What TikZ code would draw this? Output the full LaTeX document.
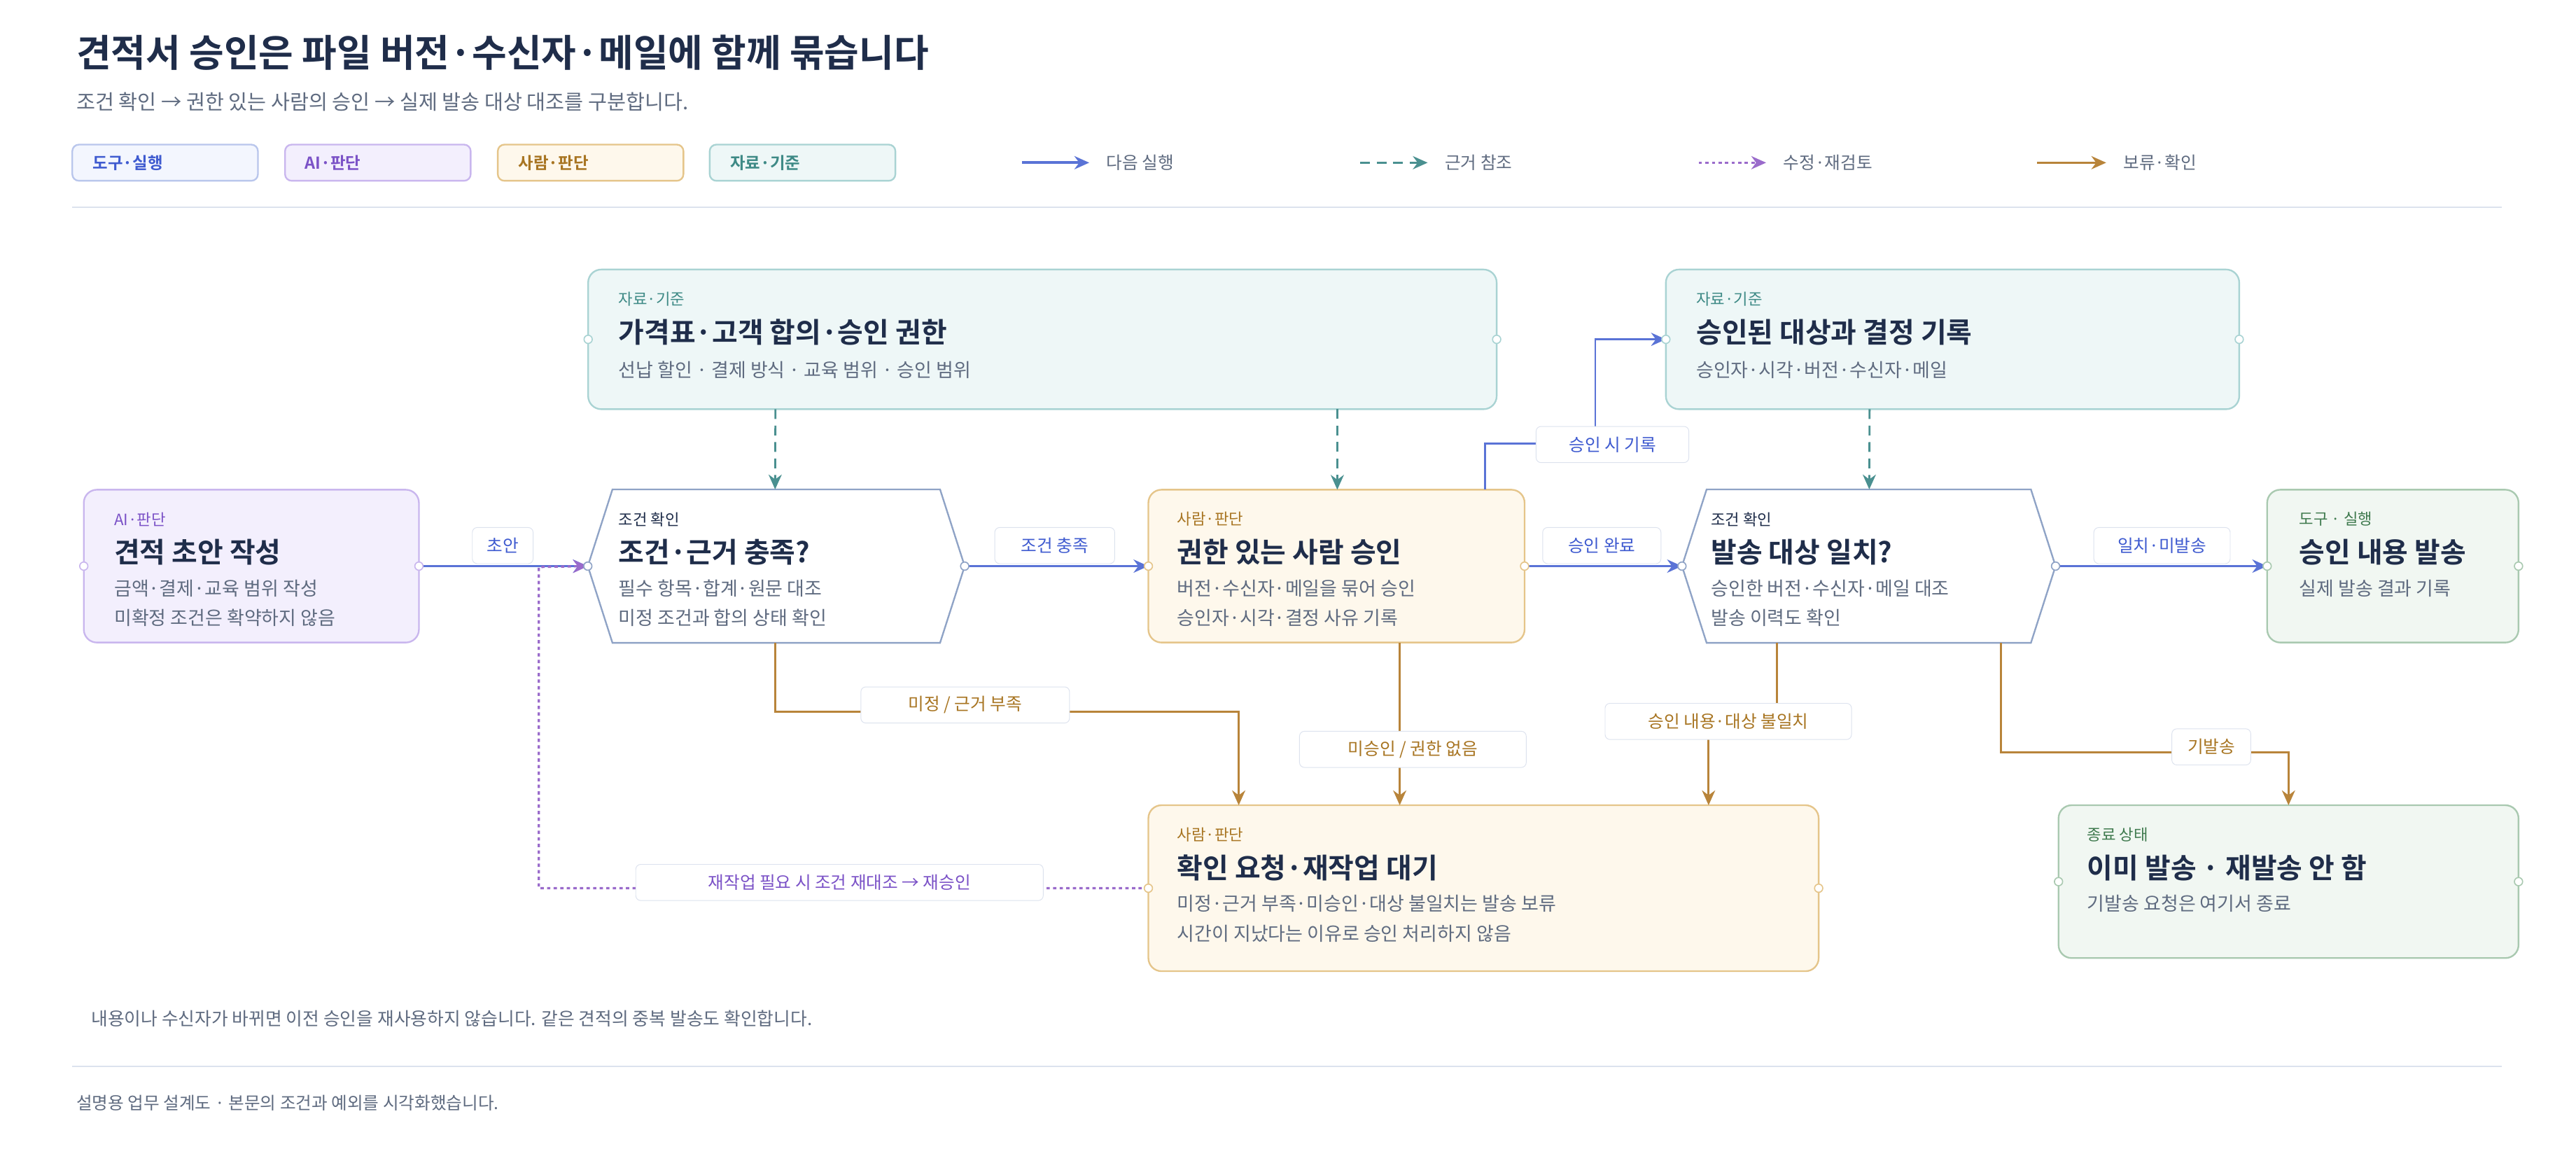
\documentclass[tikz,border=0pt]{standalone}
\usepackage{fontspec}
\setmainfont{Noto Sans CJK KR}[BoldFont={Noto Sans CJK KR Bold}]
\usetikzlibrary{arrows.meta,calc}
\definecolor{ink}{HTML}{1F2D4A}
\definecolor{gr}{HTML}{5F6B80}
\definecolor{eblue}{HTML}{5A73D6}
\definecolor{eteal}{HTML}{4A9090}
\definecolor{epurp}{HTML}{9A6BCB}
\definecolor{ebrown}{HTML}{B8843A}
\definecolor{tealF}{HTML}{EEF7F7}\definecolor{tealD}{HTML}{A9D3D3}\definecolor{tealT}{HTML}{3E8A86}
\definecolor{purF}{HTML}{F3EFFD}\definecolor{purD}{HTML}{C9B6EE}\definecolor{purT}{HTML}{7B52C7}
\definecolor{orF}{HTML}{FEF8EC}\definecolor{orD}{HTML}{E5C58A}\definecolor{orT}{HTML}{A87522}
\definecolor{grnF}{HTML}{F1F7F2}\definecolor{grnD}{HTML}{A9C9B0}\definecolor{grnT}{HTML}{3F7A4E}
\definecolor{bluF}{HTML}{F3F6FE}\definecolor{bluD}{HTML}{B9C6EC}\definecolor{bluT}{HTML}{3F5BD0}
\definecolor{hexD}{HTML}{8FA3C6}
\definecolor{lab}{HTML}{DCE2EE}
\tikzset{
 box/.style={rounded corners=8pt,line width=1pt,inner sep=0pt,outer sep=0pt},
 tk/.style={anchor=west,font=\fontsize{9.5}{11}\selectfont},
 ttl/.style={anchor=west,font=\bfseries\fontsize{17}{20}\selectfont,text=ink},
 ln/.style={anchor=west,font=\fontsize{11.5}{13}\selectfont,text=gr},
 elab/.style={fill=white,draw=lab,rounded corners=3pt,inner sep=0pt,minimum height=22pt,font=\fontsize{10.5}{12}\selectfont},
 port/.style={circle,draw=#1,fill=white,inner sep=0pt,minimum size=5pt,line width=0.7pt},
 aw/.style={-{Stealth[length=9pt,width=8pt]}},
 nxt/.style={aw,eblue,line width=1.6pt},
 ref/.style={aw,eteal,line width=1.2pt,dash pattern=on 6pt off 4pt},
 rev/.style={aw,epurp,line width=1.4pt,dash pattern=on 2pt off 2pt},
 hold/.style={aw,ebrown,line width=1.3pt},
 legb/.style={box,rounded corners=4pt,minimum width=113pt,minimum height=22pt},
}
\begin{document}
\begin{tikzpicture}[x=1pt,y=-1pt]
\useasboundingbox[fill=white] (0,0) rectangle (1568,699);
% header
\node[anchor=west,font=\bfseries\fontsize{23}{26}\selectfont,text=ink] (title) at (43,32) {견적서 승인은 파일 버전·수신자·메일에 함께 묶습니다};
\node[anchor=west,font=\fontsize{12.5}{14}\selectfont,text=gr] (sub) at (43,62) {조건 확인 → 권한 있는 사람의 승인 → 실제 발송 대상 대조를 구분합니다.};
% legend
\node[legb,fill=bluF,draw=bluD] (l1) at (100.5,99) {};
\node[tk,text=bluT,font=\bfseries\fontsize{10}{12}\selectfont] (l1t) at (53,99) {도구·실행};
\node[legb,fill=purF,draw=purD] (l2) at (230,99) {};
\node[tk,text=purT,font=\bfseries\fontsize{10}{12}\selectfont] (l2t) at (182,99) {AI·판단};
\node[legb,fill=orF,draw=orD] (l3) at (359.5,99) {};
\node[tk,text=orT,font=\bfseries\fontsize{10}{12}\selectfont] (l3t) at (312,99) {사람·판단};
\node[legb,fill=tealF,draw=tealD] (l4) at (488.5,99) {};
\node[tk,text=tealT,font=\bfseries\fontsize{10}{12}\selectfont] (l4t) at (441,99) {자료·기준};
\coordinate (a1) at (622,99);\coordinate (b1) at (663,99);
\draw[nxt] (a1) -- (b1);
\node[tk,text=gr,font=\fontsize{10.5}{12}\selectfont] (lt1) at (670,99) {다음 실행};
\coordinate (a2) at (828,99);\coordinate (b2) at (869,99);
\draw[ref] (a2) -- (b2);
\node[tk,text=gr,font=\fontsize{10.5}{12}\selectfont] (lt2) at (876,99) {근거 참조};
\coordinate (a3) at (1034,99);\coordinate (b3) at (1075,99);
\draw[rev] (a3) -- (b3);
\node[tk,text=gr,font=\fontsize{10.5}{12}\selectfont] (lt3) at (1082,99) {수정·재검토};
\coordinate (a4) at (1240,99);\coordinate (b4) at (1282,99);
\draw[hold] (a4) -- (b4);
\node[tk,text=gr,font=\fontsize{10.5}{12}\selectfont] (lt4) at (1289,99) {보류·확인};
\coordinate (s1a) at (44,126);\coordinate (s1b) at (1523,126);
\draw[lab,line width=1pt] (s1a) -- (s1b);
% cards
\node[box,fill=tealF,draw=tealD,minimum width=553pt,minimum height=85pt] (src1) at (634.5,206.5) {};
\node[tk,text=tealT] at (373,182) {자료·기준};
\node[ttl] at (373,202) {가격표·고객 합의·승인 권한};
\node[ln] at (373,225) {선납 할인 · 결제 방식 · 교육 범위 · 승인 범위};
\node[box,fill=tealF,draw=tealD,minimum width=349pt,minimum height=85pt] (src2) at (1188.5,206.5) {};
\node[tk,text=tealT] at (1029,182) {자료·기준};
\node[ttl] at (1029,202) {승인된 대상과 결정 기록};
\node[ln] at (1029,225) {승인자·시각·버전·수신자·메일};
\node[box,fill=purF,draw=purD,minimum width=204pt,minimum height=93pt] (ai) at (153,344.5) {};
\node[tk,text=purT] at (66,316) {AI·판단};
\node[ttl] at (66,336) {견적 초안 작성};
\node[ln] at (66,358) {금액·결제·교육 범위 작성};
\node[ln] at (66,376) {미확정 조건은 확약하지 않음};
% hex 1
\node[inner sep=0,minimum width=229pt,minimum height=93pt] (c1) at (472.5,344.5) {};
\draw[hexD,fill=white,line width=1pt] (c1.west) -- ($(c1.north west)+(15,0)$) -- ($(c1.north east)+(-15,0)$) -- (c1.east) -- ($(c1.south east)+(-15,0)$) -- ($(c1.south west)+(15,0)$) -- cycle;
\node[tk,text=ink] at (373,316) {조건 확인};
\node[ttl] at (373,336) {조건·근거 충족?};
\node[ln] at (373,358) {필수 항목·합계·원문 대조};
\node[ln] at (373,376) {미정 조건과 합의 상태 확인};
\node[box,fill=orF,draw=orD,minimum width=229pt,minimum height=93pt] (h1) at (813.5,344.5) {};
\node[tk,text=orT] at (713,316) {사람·판단};
\node[ttl] at (713,336) {권한 있는 사람 승인};
\node[ln] at (713,358) {버전·수신자·메일을 묶어 승인};
\node[ln] at (713,376) {승인자·시각·결정 사유 기록};
% hex 2
\node[inner sep=0,minimum width=227pt,minimum height=93pt] (c2) at (1137.5,344.5) {};
\draw[hexD,fill=white,line width=1pt] (c2.west) -- ($(c2.north west)+(15,0)$) -- ($(c2.north east)+(-15,0)$) -- (c2.east) -- ($(c2.south east)+(-15,0)$) -- ($(c2.south west)+(15,0)$) -- cycle;
\node[tk,text=ink] at (1038,316) {조건 확인};
\node[ttl] at (1038,336) {발송 대상 일치?};
\node[ln] at (1038,358) {승인한 버전·수신자·메일 대조};
\node[ln] at (1038,376) {발송 이력도 확인};
\node[box,fill=grnF,draw=grnD,minimum width=153pt,minimum height=93pt] (tool) at (1456.5,344.5) {};
\node[tk,text=grnT] at (1396,316) {도구 · 실행};
\node[ttl] at (1396,336) {승인 내용 발송};
\node[ln] at (1396,358) {실제 발송 결과 기록};
\node[box,fill=orF,draw=orD,minimum width=408pt,minimum height=101pt] (wait) at (903,540.5) {};
\node[tk,text=orT] at (713,508) {사람·판단};
\node[ttl] at (713,528) {확인 요청·재작업 대기};
\node[ln] at (713,550) {미정·근거 부족·미승인·대상 불일치는 발송 보류};
\node[ln] at (713,568) {시간이 지났다는 이유로 승인 처리하지 않음};
\node[box,fill=grnF,draw=grnD,minimum width=280pt,minimum height=93pt] (end) at (1393,536.5) {};
\node[tk,text=grnT] at (1267,508) {종료 상태};
\node[ttl] at (1267,528) {이미 발송 · 재발송 안 함};
\node[ln] at (1267,550) {기발송 요청은 여기서 종료};
% edges
\draw[ref] ($(src1.south west)+(114,0)$) -- ($(c1.north west)+(114,0)$);
\draw[ref] ($(src1.south west)+(456,0)$) -- ($(h1.north west)+(115,0)$);
\draw[ref] ($(src2.south west)+(124,0)$) -- ($(c2.north west)+(114,0)$);
\draw[nxt] (ai.east) -- (c1.west);
\node[elab,text=bluT,minimum width=37pt] (e1) at (306,332) {초안};
\draw[nxt] (c1.east) -- (h1.west);
\node[elab,text=bluT,minimum width=73pt] (e2) at (642,332) {조건 충족};
\draw[nxt] (h1.east) -- (c2.west);
\node[elab,text=bluT,minimum width=72pt] (e3) at (975,332) {승인 완료};
\draw[nxt] (c2.east) -- (tool.west);
\node[elab,text=bluT,minimum width=83pt] (e4) at (1316,332) {일치·미발송};
\draw[nxt,line width=1.2pt] ($(h1.north east)+(-24,0)$) |- (935,270) -- (971,270) |- (src2.west);
\node[elab,text=bluT,minimum width=93pt] (e5) at (981.5,270.5) {승인 시 기록};
% hold
\draw[hold] ($(c1.south west)+(114,0)$) |- (754,433) -- ($(wait.north west)+(55,0)$);
\node[elab,text=orT,minimum width=127pt] (e6) at (587.5,429) {미정 / 근거 부족};
\draw[hold] ($(h1.south west)+(153,0)$) -- ($(wait.north west)+(153,0)$);
\node[elab,text=orT,minimum width=138pt] (e7) at (860,456) {미승인 / 권한 없음};
\draw[hold] ($(c2.south west)+(58,0)$) |- (1040,439) -- ($(wait.north west)+(341,0)$);
\node[elab,text=orT,minimum width=150pt] (e8) at (1052,439) {승인 내용·대상 불일치};
\draw[hold] ($(c2.south west)+(194,0)$) |- (1393,458) -- (end.north);
\node[elab,text=orT,minimum width=48pt] (e9) at (1346,454.5) {기발송};
% revision
\draw[rev] (wait.west) -| (328,345) -- (c1.west);
\node[elab,text=purT,minimum width=248pt] (e10) at (511,537) {재작업 필요 시 조건 재대조 → 재승인};
% ports
\foreach \p/\c in {src1.west/tealD,src1.east/tealD,src2.west/tealD,src2.east/tealD,ai.west/purD,ai.east/purD,c1.west/hexD,c1.east/hexD,h1.west/orD,h1.east/orD,c2.west/hexD,c2.east/hexD,tool.west/grnD,tool.east/grnD,wait.west/orD,wait.east/orD,end.west/grnD,end.east/grnD}
  \node[port=\c] at (\p) {};
% footer
\node[anchor=west,font=\fontsize{11}{13}\selectfont,text=gr] (fn) at (52,620) {내용이나 수신자가 바뀌면 이전 승인을 재사용하지 않습니다. 같은 견적의 중복 발송도 확인합니다.};
\coordinate (s2a) at (44,649);\coordinate (s2b) at (1523,649);
\draw[lab,line width=1pt] (s2a) -- (s2b);
\node[anchor=west,font=\fontsize{10.5}{12}\selectfont,text=gr] (cap) at (43,671) {설명용 업무 설계도 · 본문의 조건과 예외를 시각화했습니다.};
\end{tikzpicture}
\end{document}
